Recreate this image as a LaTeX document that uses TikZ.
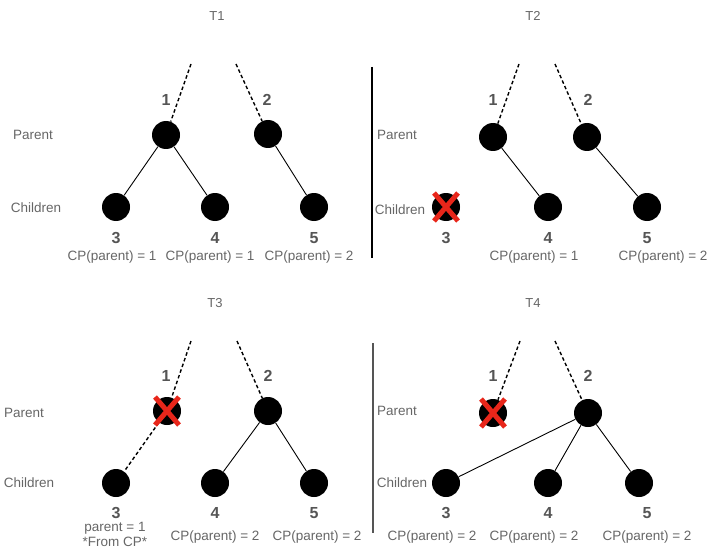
\documentclass[tikz,border=0pt]{standalone}
\usepackage{fontspec}
\setmainfont{Liberation Sans}
\definecolor{txtgray}{HTML}{666666}
\definecolor{numgray}{HTML}{555555}
\definecolor{xred}{HTML}{E8261A}
\tikzset{
  dot/.style={circle, fill=black, minimum size=28pt, inner sep=0pt},
  lbl/.style={text=txtgray, inner sep=0pt, font=\fontsize{13.5}{15}\selectfont},
  side/.style={text=txtgray, inner sep=0pt, font=\fontsize{13.5}{15}\selectfont},
  ttl/.style={text=txtgray, inner sep=0pt, font=\fontsize{13}{15}\selectfont},
  num/.style={text=numgray, inner sep=0pt, font=\fontsize{16}{18}\selectfont\bfseries},
  link/.style={draw=black, line width=0.9pt},
  dlink/.style={draw=black, line width=1.4pt, dash pattern=on 3.5pt off 2.5pt},
  cross/.style={draw=xred, line width=5pt},
  divider/.style={line width=1.3pt}
}
% red cross over a node
\newcommand\strikenode[1]{%
  \draw[cross] ([shift={(-12,-14)}]#1.center) -- ([shift={(12,14)}]#1.center);
  \draw[cross] ([shift={(12,-14)}]#1.center) -- ([shift={(-12,14)}]#1.center);}
\begin{document}
\begin{tikzpicture}[x=1pt,y=-1pt]
\useasboundingbox (0,0) rectangle (708,548);

% ---------------- T1 ----------------
\node[ttl] (t1) at (217,16) {T1};
\node[side] (t1p) at (33,135) {Parent};
\node[side] (t1c) at (36,208) {Children};
\node[dot] (a1) at (166,135) {};
\node[dot] (a2) at (268,134) {};
\node[dot] (a3) at (116,207) {};
\node[dot] (a4) at (215,207) {};
\node[dot] (a5) at (314,207) {};
\coordinate (a1top) at (191,64);
\coordinate (a2top) at (236,64);
\draw[dlink] (a1top) -- (a1);
\draw[dlink] (a2top) -- (a2);
\draw[link] (a1) -- (a3);
\draw[link] (a1) -- (a4);
\draw[link] (a2) -- (a5);
\node[num] (a1n) at (166,100) {1};
\node[num] (a2n) at (267,100) {2};
\node[num] (a3n) at (116,238) {3};
\node[num] (a4n) at (215,238) {4};
\node[num] (a5n) at (314,238) {5};
\node[lbl] (a3cp) at (112,257) {CP(parent) = 1};
\node[lbl] (a4cp) at (210,257) {CP(parent) = 1};
\node[lbl] (a5cp) at (309,257) {CP(parent) = 2};

% ---------------- T2 ----------------
\node[ttl] (t2) at (533,16) {T2};
\coordinate (v1top) at (372,67);
\coordinate (v1bot) at (372,258);
\draw[divider, black] (v1top) -- (v1bot);
\node[side] (t2p) at (397,135) {Parent};
\node[side] (t2c) at (400,210) {Children};
\node[dot] (b1) at (493,137) {};
\node[dot] (b2) at (587,137) {};
\node[dot] (b3) at (446,207) {};
\node[dot] (b4) at (548,207) {};
\node[dot] (b5) at (647,207) {};
\coordinate (b1top) at (519,64);
\coordinate (b2top) at (555,64);
\draw[dlink] (b1top) -- (b1);
\draw[dlink] (b2top) -- (b2);
\draw[link] (b1) -- (b4);
\draw[link] (b2) -- (b5);
\strikenode{b3}
\node[num] (b1n) at (493,100) {1};
\node[num] (b2n) at (588,100) {2};
\node[num] (b3n) at (446,238) {3};
\node[num] (b4n) at (548,238) {4};
\node[num] (b5n) at (647,238) {5};
\node[lbl] (b4cp) at (534,257) {CP(parent) = 1};
\node[lbl] (b5cp) at (663,257) {CP(parent) = 2};

% ---------------- T3 ----------------
\node[ttl] (t3) at (215,303) {T3};
\node[side] (t3p) at (24,413) {Parent};
\node[side] (t3c) at (29,483) {Children};
\node[dot] (c1) at (167,411) {};
\node[dot] (c2) at (268,411) {};
\node[dot] (c3) at (116,483) {};
\node[dot] (c4) at (215,483) {};
\node[dot] (c5) at (314,483) {};
\coordinate (c1top) at (191,341);
\coordinate (c2top) at (237,341);
\draw[dlink] (c1top) -- (c1);
\draw[dlink] (c2top) -- (c2);
\draw[dlink] (c1) -- (c3);
\draw[link] (c2) -- (c4);
\draw[link] (c2) -- (c5);
\strikenode{c1}
\node[num] (c1n) at (166,376) {1};
\node[num] (c2n) at (268,376) {2};
\node[num] (c3n) at (116,513) {3};
\node[num] (c4n) at (215,513) {4};
\node[num] (c5n) at (314,513) {5};
\node[lbl] (c3p) at (115,528) {parent = 1};
\node[lbl] (c3f) at (115,542) {*From CP*};
\node[lbl] (c4cp) at (215,537) {CP(parent) = 2};
\node[lbl] (c5cp) at (317,537) {CP(parent) = 2};

% ---------------- T4 ----------------
\node[ttl] (t4) at (533,303) {T4};
\coordinate (v2top) at (373,343);
\coordinate (v2bot) at (373,533);
\draw[divider, numgray] (v2top) -- (v2bot);
\node[side] (t4p) at (397,411) {Parent};
\node[side] (t4c) at (402,483) {Children};
\node[dot] (d1) at (493,413) {};
\node[dot] (d2) at (588,413) {};
\node[dot] (d3) at (446,483) {};
\node[dot] (d4) at (548,483) {};
\node[dot] (d5) at (639,483) {};
\coordinate (d1top) at (520,341);
\coordinate (d2top) at (555,341);
\draw[dlink] (d1top) -- (d1);
\draw[dlink] (d2top) -- (d2);
\draw[link] (d2) -- (d3);
\draw[link] (d2) -- (d4);
\draw[link] (d2) -- (d5);
\strikenode{d1}
\node[num] (d1n) at (493,376) {1};
\node[num] (d2n) at (588,376) {2};
\node[num] (d3n) at (446,513) {3};
\node[num] (d4n) at (548,513) {4};
\node[num] (d5n) at (647,513) {5};
\node[lbl] (d3cp) at (432,537) {CP(parent) = 2};
\node[lbl] (d4cp) at (534,537) {CP(parent) = 2};
\node[lbl] (d5cp) at (647,537) {CP(parent) = 2};
\end{tikzpicture}
\end{document}
